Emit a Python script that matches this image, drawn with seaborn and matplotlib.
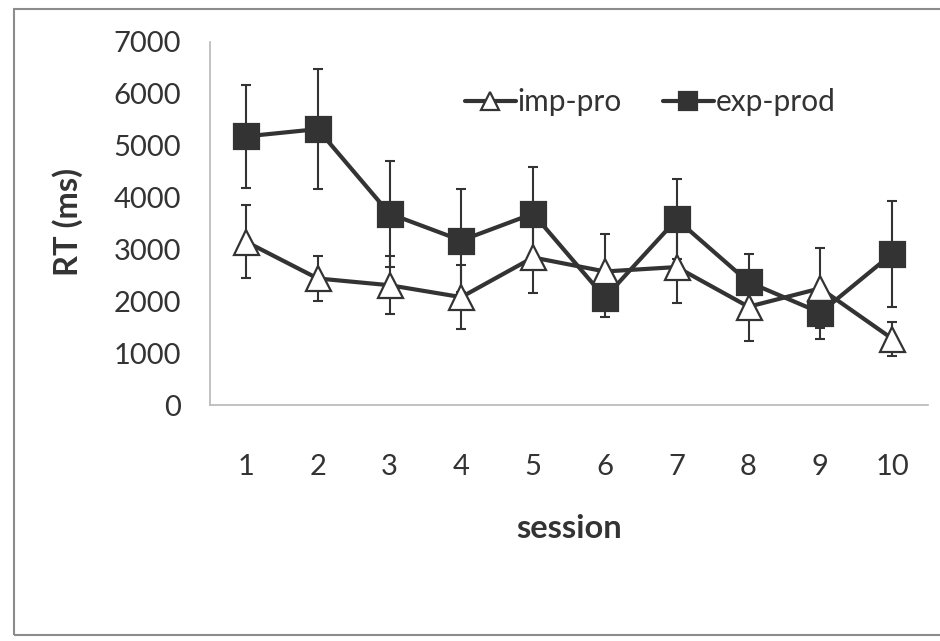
import matplotlib
matplotlib.use("Agg")
import matplotlib.pyplot as plt
from matplotlib.patches import Rectangle
from matplotlib.ticker import FixedLocator
import numpy as np
import pandas as pd
import seaborn as sns

# Mean response time per session with error-bar half widths (ms)
sessions = [1, 2, 3, 4, 5, 6, 7, 8, 9, 10]
imp_pro_mean = [3150, 2440, 2310, 2080, 2845, 2575, 2660, 1895, 2250, 1280]
imp_pro_err = [700, 440, 555, 620, 690, 730, 700, 655, 770, 330]
exp_prod_mean = [5180, 5320, 3690, 3172, 3690, 2070, 3580, 2370, 1780, 2915]
exp_prod_err = [990, 1150, 1020, 1000, 900, 380, 770, 540, 515, 1020]
y_ticks = [0, 1000, 2000, 3000, 4000, 5000, 6000, 7000]

df = pd.DataFrame({
    "session": sessions * 2,
    "rt": imp_pro_mean + exp_prod_mean,
    "err": imp_pro_err + exp_prod_err,
    "cond": ["imp-pro"] * len(sessions) + ["exp-prod"] * len(sessions),
})

sns.set_theme(style="white")
plt.rcParams["font.family"] = ["Lato", "DejaVu Sans"]

ink = "#333333"
axis_gray = "#b8b8b8"

fig = plt.figure(figsize=(9.40, 6.41), dpi=100)
ax = fig.add_axes([210 / 940, 1 - 405 / 641, 718 / 940, 363 / 641])

styles = {
    "imp-pro": dict(marker="^", mfc="white"),
    "exp-prod": dict(marker="s", mfc=ink),
}

for cond, st in styles.items():
    sub = df[df["cond"] == cond]
    ax.errorbar(sub["session"], sub["rt"], yerr=sub["err"], fmt="none",
                ecolor=ink, elinewidth=1.5, capsize=3.8, capthick=1.5,
                zorder=2)
    sns.lineplot(data=sub, x="session", y="rt", ax=ax, color=ink,
                 linewidth=3.0, label=cond, zorder=3)
    line = ax.get_lines()[-1]
    line.set_marker(st["marker"])
    line.set_markersize(18)
    line.set_markerfacecolor(st["mfc"])
    line.set_markeredgecolor(ink)
    line.set_markeredgewidth(1.6)

ax.set_xlim(0.5, 10.5)
ax.set_ylim(0, 7000)
ax.set_yticks(y_ticks)
ax.set_xticks(sessions)
ax.xaxis.set_minor_locator(FixedLocator(np.arange(0.5, 11.0, 1.0)))

for side in ("top", "right"):
    ax.spines[side].set_visible(False)
for side in ("left", "bottom"):
    ax.spines[side].set_color(axis_gray)
    ax.spines[side].set_linewidth(1.2)

ax.tick_params(axis="x", which="major", length=0, pad=35,
               labelsize=21, labelcolor=ink)
ax.tick_params(axis="x", which="minor", length=7, width=1.2,
               color=axis_gray, direction="out")
ax.tick_params(axis="y", which="major", length=7, width=1.2,
               color=axis_gray, direction="out", pad=14,
               labelsize=21, labelcolor=ink)

ax.set_xlabel("session", fontsize=23.5, fontweight="bold", color=ink)
ax.set_ylabel("RT (ms)", fontsize=23.5, fontweight="bold", color=ink)
ax.xaxis.label.set_va("center")
ax.xaxis.set_label_coords(0.5, -(529 - 405) / 363)
ax.yaxis.label.set_va("center")
ax.yaxis.set_label_coords(-(210 - 68) / 718, (405 - 222) / 363)

leg = ax.legend(ncol=2, frameon=False, loc="center",
                bbox_to_anchor=((650 - 210) / 718, (405 - 102) / 363),
                fontsize=21.5, markerscale=0.7, handlelength=1.7,
                handletextpad=0.05, columnspacing=1.4, labelcolor=ink)

# outer chart border
fig.patches.append(Rectangle((14 / 940, 6 / 641), 1.2, 1 - 15 / 641,
                             transform=fig.transFigure, fill=False,
                             edgecolor="#8c8c8c", linewidth=1.5))

fig.savefig("out.png", dpi=100, facecolor="white")
